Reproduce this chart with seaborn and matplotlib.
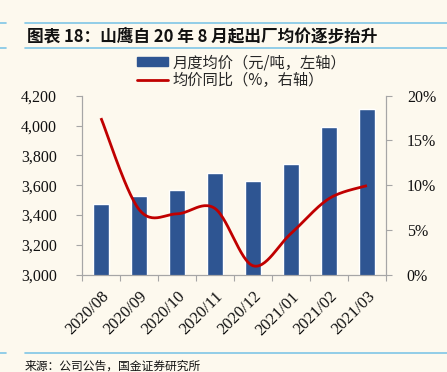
import matplotlib
matplotlib.use("Agg")
import matplotlib.pyplot as plt
import numpy as np
import pandas as pd
import seaborn as sns
from matplotlib.lines import Line2D
from matplotlib.patches import Patch
from matplotlib.ticker import FuncFormatter, FixedLocator

# datos
meses = ["2020/08", "2020/09", "2020/10", "2020/11", "2020/12", "2021/01", "2021/02", "2021/03"]
precio_medio = [3472, 3530, 3566, 3680, 3630, 3742, 3992, 4110]   # 元/吨
variacion_anual = [17.5, 7.3, 6.8, 7.4, 1.0, 4.6, 8.5, 9.95]       # %

fondo = "#FDF9EE"
azul = "#2E5592"
rojo = "#C00000"
gris = "#A6A6A6"
linea_azul = "#7FC6E6"

sns.set_theme(style="white")
plt.rcParams["font.family"] = ["Noto Sans CJK SC", "DejaVu Sans"]
serif = "Liberation Serif"

df = pd.DataFrame({"mes": meses, "precio": precio_medio})

fig = plt.figure(figsize=(4.47, 3.72), dpi=100, facecolor=fondo)
ax = fig.add_axes([0.1834, 0.2616, 0.68, 0.4811])
ax.set_facecolor(fondo)

sns.barplot(data=df, x="mes", y="precio", color=azul, width=0.43,
            saturation=1, ax=ax, zorder=2)
ax.set_ylim(3000, 4200)
ax.set_xlim(-0.5, 7.5)
ax.set_yticks(np.arange(3000, 4201, 200))
ax.yaxis.set_major_formatter(FuncFormatter(lambda v, p: f"{int(v):,}"))
ax.set_xlabel("")
ax.set_ylabel("")

# eje secundario con la linea suavizada
ax2 = ax.twinx()
ax2.set_ylim(0, 20)
ax2.set_yticks(np.arange(0, 21, 5))
ax2.yaxis.set_major_formatter(FuncFormatter(lambda v, p: f"{int(v)}%"))

# suavizado tipo Excel (Catmull-Rom)
x = np.arange(len(variacion_anual), dtype=float)
y = np.array(variacion_anual, dtype=float)
px = np.concatenate([[x[0]], x, [x[-1]]])
py = np.concatenate([[y[0]], y, [y[-1]]])
xs, ys = [], []
t = np.linspace(0, 1, 30)
for i in range(1, len(px) - 2):
    p0 = np.array([px[i], py[i]])
    p3 = np.array([px[i + 1], py[i + 1]])
    c1 = p0 + (np.array([px[i + 1], py[i + 1]]) - np.array([px[i - 1], py[i - 1]])) / 6
    c2 = p3 - (np.array([px[i + 2], py[i + 2]]) - np.array([px[i], py[i]])) / 6
    b = ((1 - t) ** 3)[:, None] * p0 + (3 * (1 - t) ** 2 * t)[:, None] * c1 \
        + (3 * (1 - t) * t ** 2)[:, None] * c2 + (t ** 3)[:, None] * p3
    xs.extend(b[:, 0])
    ys.extend(b[:, 1])
ax2.plot(xs, ys, color=rojo, lw=2, zorder=3, solid_capstyle="butt")

# ejes y marcas
for a in (ax, ax2):
    for s in ["top"]:
        a.spines[s].set_visible(False)
    for s in ["left", "right", "bottom"]:
        a.spines[s].set_color(gris)
        a.spines[s].set_linewidth(0.8)
ax.tick_params(axis="y", which="major", length=4, width=0.8, color=gris,
               direction="out", left=True, labelsize=11.5, pad=14, labelcolor="#111111")
ax2.tick_params(axis="y", length=4, width=0.8, color=gris, direction="out",
                right=True, labelsize=11.5, pad=11, labelcolor="#111111")
ax.tick_params(axis="x", which="major", length=0, pad=10)
ax.xaxis.set_minor_locator(FixedLocator(np.arange(-0.5, 8, 1)))
ax.tick_params(axis="x", which="minor", length=4, width=0.8, color=gris,
               direction="out", bottom=True)
for lab in ax.get_yticklabels() + ax2.get_yticklabels():
    lab.set_fontfamily(serif)
ax.set_xticks(range(len(meses)))
ax.set_xticklabels(meses, rotation=45, ha="right", rotation_mode="anchor",
                   fontsize=12, fontfamily=serif, color="#111111")

# leyenda
handles = [Patch(facecolor=azul, edgecolor=azul),
           Line2D([0], [0], color=rojo, lw=2)]
fig.legend(handles, ["月度均价（元/吨，左轴）", "均价同比（%，右轴）"],
           loc="upper left", bbox_to_anchor=(137 / 447, 1 - 54 / 372), frameon=False,
           fontsize=11, handlelength=2.0, handleheight=0.5, handletextpad=0.35,
           labelspacing=0.05, borderaxespad=0, borderpad=0)

# titulo y lineas decorativas
for yy in (1 - 23 / 372, 1 - 48 / 372, 1 - 353 / 372):
    fig.add_artist(Line2D([25 / 447, 1], [yy, yy], color=linea_azul, lw=1.2))
    fig.add_artist(Line2D([0, 6 / 447], [yy, yy], color=linea_azul, lw=1.2))
fig.text(27 / 447, 1 - 36 / 372, "图表 18：山鹰自 20 年 8 月起出厂均价逐步抬升",
         fontsize=12, fontweight="bold", va="center", ha="left", color="#111111")
fig.text(25 / 447, 1 - 366 / 372, "来源：公司公告，国金证券研究所",
         fontsize=8.5, va="center", ha="left", color="#111111")

fig.savefig("out.png", dpi=100, facecolor=fondo)
